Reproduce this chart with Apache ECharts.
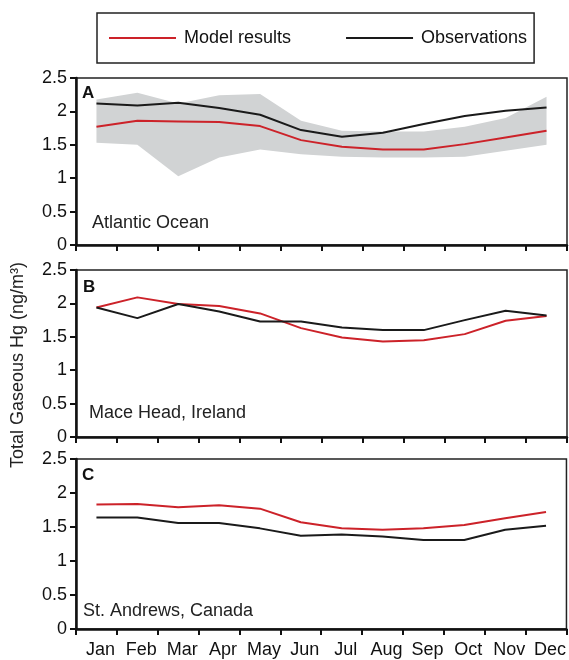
<!DOCTYPE html>
<html>
<head>
<meta charset="utf-8">
<script src="https://cdn.jsdelivr.net/npm/echarts@6/dist/echarts.min.js"></script>
<style>
html,body{margin:0;padding:0;background:#fff;}
#chart{width:569px;height:660px;}
</style>
</head>
<body>
<div id="chart"></div>
<script>
const months = ['Jan','Feb','Mar','Apr','May','Jun','Jul','Aug','Sep','Oct','Nov','Dec'];
const yTicks = [0, 0.5, 1, 1.5, 2, 2.5];

// Panel A: Atlantic Ocean
const modelA = [1.77,1.86,1.85,1.84,1.78,1.57,1.47,1.43,1.43,1.51,1.61,1.71];
const obsA   = [2.12,2.09,2.13,2.05,1.95,1.72,1.62,1.68,1.81,1.93,2.01,2.06];
const bandLowA  = [1.53,1.50,1.03,1.31,1.43,1.36,1.32,1.31,1.31,1.32,1.41,1.50];
const bandHighA = [2.18,2.28,2.12,2.24,2.26,1.86,1.71,1.70,1.70,1.77,1.90,2.22];

// Panel B: Mace Head, Ireland
const modelB = [1.94,2.09,1.99,1.96,1.85,1.63,1.49,1.43,1.45,1.54,1.74,1.81];
const obsB   = [1.94,1.78,1.99,1.88,1.73,1.73,1.64,1.60,1.60,1.75,1.89,1.82];

// Panel C: St. Andrews, Canada
const modelC = [1.83,1.84,1.79,1.82,1.77,1.57,1.48,1.46,1.48,1.53,1.63,1.72];
const obsC   = [1.64,1.64,1.56,1.56,1.48,1.37,1.39,1.36,1.31,1.31,1.46,1.52];

const panelLetters = ['A','B','C'];
const panelNames = ['Atlantic Ocean','Mace Head, Ireland','St. Andrews, Canada'];

const RED = '#cc2229';
const BLACK = '#1a1a1a';
const FONT = '"Liberation Sans", Arial, Helvetica, sans-serif';

const grids = [
  {left:76, width:491, top:78, height:167},
  {left:76, width:491, top:270, height:167},
  {left:76, width:491, top:459, height:170}
].map(g => Object.assign(g, {show:true, borderColor:'#222', borderWidth:1.5, backgroundColor:'transparent'}));

function xAx(i, showLabels){
  return {
    type:'category', gridIndex:i, data:months, boundaryGap:true,
    axisLine:{show:true, lineStyle:{color:'#111', width:2.5}},
    axisTick:{show:true, length:6, inside:false, alignWithLabel:false, lineStyle:{color:'#111', width:2}},
    axisLabel:{show:showLabels, interval:0, margin:12, color:'#111', fontSize:18, fontFamily:FONT, padding:[0,0,0,8]},
    splitLine:{show:false}
  };
}
function yAx(i){
  return {
    type:'value', gridIndex:i, min:0, max:2.5, interval:0.5,
    axisLine:{show:true, lineStyle:{color:'#111', width:2.5}},
    axisTick:{show:true, length:6, lineStyle:{color:'#111', width:2}},
    axisLabel:{margin:9, color:'#111', fontSize:18, fontFamily:FONT,
      formatter: v => yTicks.indexOf(v) >= 0 ? String(v) : ''},
    splitLine:{show:false}
  };
}

function line(name, data, color, i){
  return {name, type:'line', xAxisIndex:i, yAxisIndex:i, data, symbol:'none',
    lineStyle:{color, width:2}, itemStyle:{color}, z:5, silent:true};
}

const series = [
  {type:'line', xAxisIndex:0, yAxisIndex:0, data:bandLowA, stack:'bandA', symbol:'none',
   lineStyle:{opacity:0}, silent:true, z:1},
  {type:'line', xAxisIndex:0, yAxisIndex:0, data:bandHighA.map((v,k)=> +(v - bandLowA[k]).toFixed(3)),
   stack:'bandA', symbol:'none', lineStyle:{opacity:0}, areaStyle:{color:'#d1d3d4', opacity:1}, silent:true, z:1},
  line('Model results', modelA, RED, 0),
  line('Observations', obsA, BLACK, 0),
  line('Model results', modelB, RED, 1),
  line('Observations', obsB, BLACK, 1),
  line('Model results', modelC, RED, 2),
  line('Observations', obsC, BLACK, 2)
];

const letterY = [93, 287, 475];
const letterX = [82, 83, 82];
const nameY = [223, 413, 611];
const nameX = [92, 89, 83];
const graphics = [];
for (let i=0;i<3;i++){
  graphics.push({type:'text', x:letterX[i], y:letterY[i], z:10,
    style:{text:panelLetters[i], fill:'#111', font:'bold 17px '+FONT, textVerticalAlign:'middle'}});
  graphics.push({type:'text', x:nameX[i], y:nameY[i], z:10,
    style:{text:panelNames[i], fill:'#222', font:'18px '+FONT, textVerticalAlign:'middle'}});
}
graphics.push({type:'text', x:18, y:365, rotation:Math.PI/2, z:10,
  style:{text:'Total Gaseous Hg (ng/m³)', fill:'#222', font:'18px '+FONT, textAlign:'center', textVerticalAlign:'middle'}});

const chart = echarts.init(document.getElementById('chart'), null, {renderer:'canvas'});
chart.setOption({
  animation:false,
  backgroundColor:'#fff',
  legend:{
    data:['Model results','Observations'],
    left:97, top:13,
    padding:[16,7,16,12],
    itemGap:55,
    itemWidth:67, itemHeight:2,
    icon:'rect',
    borderColor:'#222', borderWidth:1.5,
    selectedMode:false,
    textStyle:{fontSize:18, fontFamily:FONT, color:'#111', padding:[0,0,0,3], lineHeight:18}
  },
  grid:grids,
  xAxis:[xAx(0,false), xAx(1,false), xAx(2,true)],
  yAxis:[yAx(0), yAx(1), yAx(2)],
  series,
  graphic:graphics
});
</script>
</body>
</html>
